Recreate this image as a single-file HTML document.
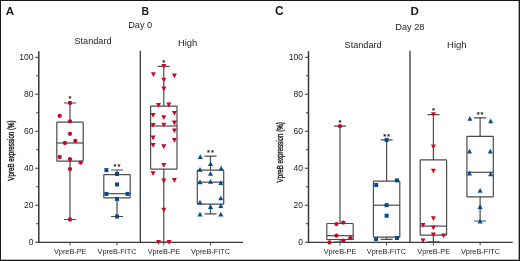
<!DOCTYPE html>
<html><head><meta charset="utf-8"><style>
html,body{margin:0;padding:0;background:#fff;}
body{width:520px;height:261px;overflow:hidden;}
svg{display:block;will-change:transform;}
text{font-family:"Liberation Sans",sans-serif;fill:#1c1c1c;}
.yt{font-size:9.4px;text-anchor:middle;stroke:#1c1c1c;stroke-width:0.4px;}
.st{font-size:7.6px;text-anchor:middle;fill:#111;stroke:#111;stroke-width:0.15px;}
</style></head><body>
<svg width="520" height="261" viewBox="0 0 520 261">
<rect x="0" y="0" width="520" height="261" fill="#fff"/>
<text x="5.67" y="14.90" font-size="11.60" text-anchor="start" font-weight="bold" fill="#111">A</text>
<text x="141.44" y="15.00" font-size="11.60" text-anchor="start" font-weight="bold" fill="#111" textLength="7.54" lengthAdjust="spacingAndGlyphs">B</text>
<text x="275.01" y="14.75" font-size="12.00" text-anchor="start" font-weight="bold" fill="#111">C</text>
<text x="410.42" y="14.50" font-size="11.60" text-anchor="start" font-weight="bold" fill="#111">D</text>
<text x="140.20" y="27.70" font-size="9.20" text-anchor="middle" fill="#1c1c1c" textLength="23.91" lengthAdjust="spacingAndGlyphs">Day 0</text>
<text x="409.87" y="29.90" font-size="9.27" text-anchor="middle" fill="#1c1c1c" textLength="29.26" lengthAdjust="spacingAndGlyphs">Day 28</text>
<text x="92.99" y="44.20" font-size="9.56" text-anchor="middle" fill="#1c1c1c" textLength="37.00" lengthAdjust="spacingAndGlyphs">Standard</text>
<text x="187.62" y="45.90" font-size="9.43" text-anchor="middle" fill="#1c1c1c" textLength="19.39" lengthAdjust="spacingAndGlyphs">High</text>
<text x="363.09" y="48.20" font-size="9.56" text-anchor="middle" fill="#1c1c1c" textLength="37.00" lengthAdjust="spacingAndGlyphs">Standard</text>
<text x="456.82" y="48.10" font-size="9.48" text-anchor="middle" fill="#1c1c1c" textLength="19.60" lengthAdjust="spacingAndGlyphs">High</text>
<text x="70.24" y="254.10" font-size="7.55" text-anchor="middle" fill="#1c1c1c" textLength="32.55" lengthAdjust="spacingAndGlyphs">VpreB-PE</text>
<text x="117.02" y="254.10" font-size="7.54" text-anchor="middle" fill="#1c1c1c" textLength="38.91" lengthAdjust="spacingAndGlyphs">VpreB-FITC</text>
<text x="163.89" y="254.10" font-size="7.54" text-anchor="middle" fill="#1c1c1c" textLength="32.45" lengthAdjust="spacingAndGlyphs">VpreB-PE</text>
<text x="210.52" y="254.10" font-size="7.55" text-anchor="middle" fill="#1c1c1c" textLength="39.11" lengthAdjust="spacingAndGlyphs">VpreB-FITC</text>
<text x="33.43" y="245.05" font-size="8.90" text-anchor="end" fill="#1c1c1c" textLength="4.75" lengthAdjust="spacingAndGlyphs">0</text>
<text x="33.43" y="208.07" font-size="8.90" text-anchor="end" fill="#1c1c1c" textLength="9.50" lengthAdjust="spacingAndGlyphs">20</text>
<text x="33.43" y="171.09" font-size="8.90" text-anchor="end" fill="#1c1c1c" textLength="9.50" lengthAdjust="spacingAndGlyphs">40</text>
<text x="33.43" y="134.11" font-size="8.90" text-anchor="end" fill="#1c1c1c" textLength="9.50" lengthAdjust="spacingAndGlyphs">60</text>
<text x="33.43" y="97.13" font-size="8.90" text-anchor="end" fill="#1c1c1c" textLength="9.50" lengthAdjust="spacingAndGlyphs">80</text>
<text x="33.43" y="60.15" font-size="8.90" text-anchor="end" fill="#1c1c1c" textLength="14.26" lengthAdjust="spacingAndGlyphs">100</text>
<text x="339.99" y="254.10" font-size="7.56" text-anchor="middle" fill="#1c1c1c" textLength="32.65" lengthAdjust="spacingAndGlyphs">VpreB-PE</text>
<text x="386.47" y="254.10" font-size="7.56" text-anchor="middle" fill="#1c1c1c" textLength="39.21" lengthAdjust="spacingAndGlyphs">VpreB-FITC</text>
<text x="433.69" y="254.10" font-size="7.58" text-anchor="middle" fill="#1c1c1c" textLength="32.85" lengthAdjust="spacingAndGlyphs">VpreB-PE</text>
<text x="480.52" y="254.10" font-size="7.55" text-anchor="middle" fill="#1c1c1c" textLength="39.11" lengthAdjust="spacingAndGlyphs">VpreB-FITC</text>
<text x="303.03" y="245.05" font-size="8.90" text-anchor="end" fill="#1c1c1c" textLength="4.75" lengthAdjust="spacingAndGlyphs">0</text>
<text x="303.03" y="208.07" font-size="8.90" text-anchor="end" fill="#1c1c1c" textLength="9.50" lengthAdjust="spacingAndGlyphs">20</text>
<text x="303.03" y="171.09" font-size="8.90" text-anchor="end" fill="#1c1c1c" textLength="9.50" lengthAdjust="spacingAndGlyphs">40</text>
<text x="303.03" y="134.11" font-size="8.90" text-anchor="end" fill="#1c1c1c" textLength="9.50" lengthAdjust="spacingAndGlyphs">60</text>
<text x="303.03" y="97.13" font-size="8.90" text-anchor="end" fill="#1c1c1c" textLength="9.50" lengthAdjust="spacingAndGlyphs">80</text>
<text x="303.03" y="60.15" font-size="8.90" text-anchor="end" fill="#1c1c1c" textLength="14.26" lengthAdjust="spacingAndGlyphs">100</text>
<g stroke="#383838" fill="none">
<path d="M38.80 51.2V242.80" stroke-width="1.5"/>
<path d="M37.80 242.35H243.00" stroke-width="1.2"/>
<path d="M140.30 50.7V242.20" stroke-width="1.3"/>
<path d="M35.20 242.20H38.80" stroke-width="1"/>
<path d="M35.20 205.22H38.80" stroke-width="1"/>
<path d="M35.20 168.24H38.80" stroke-width="1"/>
<path d="M35.20 131.26H38.80" stroke-width="1"/>
<path d="M35.20 94.28H38.80" stroke-width="1"/>
<path d="M35.20 57.30H38.80" stroke-width="1"/>
<path d="M36.20 223.71H38.80" stroke-width="1"/>
<path d="M36.20 186.73H38.80" stroke-width="1"/>
<path d="M36.20 149.75H38.80" stroke-width="1"/>
<path d="M36.20 112.77H38.80" stroke-width="1"/>
<path d="M36.20 75.79H38.80" stroke-width="1"/>
<path d="M70.00 242.20V245.5" stroke-width="0.9"/>
<path d="M117.00 242.20V245.5" stroke-width="0.9"/>
<path d="M163.80 242.20V245.5" stroke-width="0.9"/>
<path d="M210.50 242.20V245.5" stroke-width="0.9"/>
</g>
<g stroke="#383838" fill="none">
<path d="M308.50 51.2V242.80" stroke-width="1.5"/>
<path d="M307.50 242.35H512.70" stroke-width="1.2"/>
<path d="M410.00 50.7V242.20" stroke-width="1.3"/>
<path d="M304.90 242.20H308.50" stroke-width="1"/>
<path d="M304.90 205.22H308.50" stroke-width="1"/>
<path d="M304.90 168.24H308.50" stroke-width="1"/>
<path d="M304.90 131.26H308.50" stroke-width="1"/>
<path d="M304.90 94.28H308.50" stroke-width="1"/>
<path d="M304.90 57.30H308.50" stroke-width="1"/>
<path d="M305.90 223.71H308.50" stroke-width="1"/>
<path d="M305.90 186.73H308.50" stroke-width="1"/>
<path d="M305.90 149.75H308.50" stroke-width="1"/>
<path d="M305.90 112.77H308.50" stroke-width="1"/>
<path d="M305.90 75.79H308.50" stroke-width="1"/>
<path d="M340.00 242.20V245.5" stroke-width="0.9"/>
<path d="M386.60 242.20V245.5" stroke-width="0.9"/>
<path d="M433.40 242.20V245.5" stroke-width="0.9"/>
<path d="M480.10 242.20V245.5" stroke-width="0.9"/>
</g>
<text transform="translate(13.50 150.50) rotate(-90) scale(0.66 1)" class="yt">VpreB expression (%)</text>
<text transform="translate(283.30 152.30) rotate(-90) scale(0.66 1)" class="yt">VpreB expression (%)</text>
<g stroke="#4c4c4c" stroke-width="1.2" fill="none" stroke-linejoin="round">
<path d="M70.00 103.00V122.20M70.00 161.10V219.50"/>
<path d="M64.00 103.00H76.00M64.00 219.50H76.00"/>
<rect x="56.80" y="122.20" width="26.40" height="38.90" rx="0.6"/>
<path d="M56.80 143.00H83.20"/>
</g>
<circle cx="70.00" cy="103.00" r="2.15" fill="#c80826"/>
<circle cx="59.70" cy="115.80" r="2.15" fill="#c80826"/>
<circle cx="70.00" cy="121.30" r="2.15" fill="#c80826"/>
<circle cx="70.00" cy="133.80" r="2.15" fill="#c80826"/>
<circle cx="75.30" cy="141.00" r="2.15" fill="#c80826"/>
<circle cx="64.90" cy="143.00" r="2.15" fill="#c80826"/>
<circle cx="59.70" cy="157.00" r="2.15" fill="#c80826"/>
<circle cx="70.00" cy="159.20" r="2.15" fill="#c80826"/>
<circle cx="80.60" cy="162.60" r="2.15" fill="#c80826"/>
<circle cx="70.00" cy="169.10" r="2.15" fill="#c80826"/>
<circle cx="70.00" cy="219.50" r="2.15" fill="#c80826"/>
<text x="70.00" y="101.40" class="st">*</text>
<g stroke="#4c4c4c" stroke-width="1.2" fill="none" stroke-linejoin="round">
<path d="M117.00 170.00V174.70M117.00 197.90V216.50"/>
<path d="M111.00 170.00H123.00M111.00 216.50H123.00"/>
<rect x="103.80" y="174.70" width="26.40" height="23.20" rx="0.6"/>
<path d="M103.80 193.70H130.20"/>
</g>
<rect x="104.40" y="168.10" width="4.0" height="4.0" fill="#044c8e"/>
<rect x="115.00" y="172.00" width="4.0" height="4.0" fill="#044c8e"/>
<rect x="115.00" y="182.50" width="4.0" height="4.0" fill="#044c8e"/>
<rect x="104.40" y="191.90" width="4.0" height="4.0" fill="#044c8e"/>
<rect x="125.50" y="191.90" width="4.0" height="4.0" fill="#044c8e"/>
<rect x="115.00" y="196.90" width="4.0" height="4.0" fill="#044c8e"/>
<rect x="115.00" y="214.50" width="4.0" height="4.0" fill="#044c8e"/>
<text x="115.05" y="168.70" class="st">*</text>
<text x="118.95" y="168.70" class="st">*</text>
<g stroke="#4c4c4c" stroke-width="1.2" fill="none" stroke-linejoin="round">
<path d="M163.80 66.40V106.10M163.80 169.10V242.20"/>
<path d="M157.80 66.40H169.80M157.80 242.20H169.80"/>
<rect x="150.60" y="106.10" width="26.40" height="63.00" rx="0.6"/>
<path d="M150.60 126.00H177.00"/>
</g>
<path d="M161.30 64.00H166.30L163.80 68.80Z" fill="#c80826"/>
<path d="M150.90 72.30H155.90L153.40 77.10Z" fill="#c80826"/>
<path d="M171.90 73.50H176.90L174.40 78.30Z" fill="#c80826"/>
<path d="M161.30 77.70H166.30L163.80 82.50Z" fill="#c80826"/>
<path d="M161.30 86.60H166.30L163.80 91.40Z" fill="#c80826"/>
<path d="M156.00 102.90H161.00L158.50 107.70Z" fill="#c80826"/>
<path d="M166.30 102.60H171.30L168.80 107.40Z" fill="#c80826"/>
<path d="M171.90 111.00H176.90L174.40 115.80Z" fill="#c80826"/>
<path d="M150.60 112.90H155.60L153.10 117.70Z" fill="#c80826"/>
<path d="M161.30 115.20H166.30L163.80 120.00Z" fill="#c80826"/>
<path d="M171.90 120.60H176.90L174.40 125.40Z" fill="#c80826"/>
<path d="M150.60 123.00H155.60L153.10 127.80Z" fill="#c80826"/>
<path d="M161.30 122.80H166.30L163.80 127.60Z" fill="#c80826"/>
<path d="M171.90 128.40H176.90L174.40 133.20Z" fill="#c80826"/>
<path d="M150.60 135.60H155.60L153.10 140.40Z" fill="#c80826"/>
<path d="M171.90 137.90H176.90L174.40 142.70Z" fill="#c80826"/>
<path d="M150.60 143.00H155.60L153.10 147.80Z" fill="#c80826"/>
<path d="M161.30 144.20H166.30L163.80 149.00Z" fill="#c80826"/>
<path d="M161.30 162.90H166.30L163.80 167.70Z" fill="#c80826"/>
<path d="M150.60 171.30H155.60L153.10 176.10Z" fill="#c80826"/>
<path d="M161.30 178.60H166.30L163.80 183.40Z" fill="#c80826"/>
<path d="M171.90 177.90H176.90L174.40 182.70Z" fill="#c80826"/>
<path d="M161.30 207.70H166.30L163.80 212.50Z" fill="#c80826"/>
<path d="M156.00 240.00H161.00L158.50 244.80Z" fill="#c80826"/>
<path d="M166.60 240.00H171.60L169.10 244.80Z" fill="#c80826"/>
<text x="163.80" y="64.80" class="st">*</text>
<g stroke="#4c4c4c" stroke-width="1.2" fill="none" stroke-linejoin="round">
<path d="M210.50 156.10V170.10M210.50 204.20V213.90"/>
<path d="M204.50 156.10H216.50M204.50 213.90H216.50"/>
<rect x="197.30" y="170.10" width="26.40" height="34.10" rx="0.6"/>
<path d="M197.30 182.20H223.70"/>
</g>
<path d="M197.80 159.10H202.80L200.30 154.30Z" fill="#044c8e"/>
<path d="M208.00 166.10H213.00L210.50 161.30Z" fill="#044c8e"/>
<path d="M197.50 171.80H202.50L200.00 167.00Z" fill="#044c8e"/>
<path d="M218.70 170.50H223.70L221.20 165.70Z" fill="#044c8e"/>
<path d="M208.00 175.80H213.00L210.50 171.00Z" fill="#044c8e"/>
<path d="M197.50 184.30H202.50L200.00 179.50Z" fill="#044c8e"/>
<path d="M208.00 183.80H213.00L210.50 179.00Z" fill="#044c8e"/>
<path d="M218.30 185.10H223.30L220.80 180.30Z" fill="#044c8e"/>
<path d="M218.30 200.30H223.30L220.80 195.50Z" fill="#044c8e"/>
<path d="M197.50 204.50H202.50L200.00 199.70Z" fill="#044c8e"/>
<path d="M208.00 208.90H213.00L210.50 204.10Z" fill="#044c8e"/>
<path d="M218.30 208.10H223.30L220.80 203.30Z" fill="#044c8e"/>
<path d="M197.50 216.60H202.50L200.00 211.80Z" fill="#044c8e"/>
<path d="M218.30 216.60H223.30L220.80 211.80Z" fill="#044c8e"/>
<text x="208.55" y="154.80" class="st">*</text>
<text x="212.45" y="154.80" class="st">*</text>
<g stroke="#4c4c4c" stroke-width="1.2" fill="none" stroke-linejoin="round">
<path d="M340.00 126.20V223.50M340.00 239.50V242.20"/>
<path d="M334.00 126.20H346.00M334.00 242.20H346.00"/>
<rect x="326.80" y="223.50" width="26.40" height="16.00" rx="0.6"/>
<path d="M326.80 235.70H353.20"/>
</g>
<circle cx="340.00" cy="126.20" r="2.15" fill="#c80826"/>
<circle cx="336.40" cy="224.10" r="2.15" fill="#c80826"/>
<circle cx="343.30" cy="222.60" r="2.15" fill="#c80826"/>
<circle cx="336.50" cy="235.70" r="2.15" fill="#c80826"/>
<circle cx="350.40" cy="238.20" r="2.15" fill="#c80826"/>
<circle cx="343.40" cy="240.60" r="2.15" fill="#c80826"/>
<circle cx="329.50" cy="242.40" r="2.15" fill="#c80826"/>
<text x="340.00" y="124.80" class="st">*</text>
<g stroke="#4c4c4c" stroke-width="1.2" fill="none" stroke-linejoin="round">
<path d="M386.60 139.90V181.20M386.60 237.20V239.40"/>
<path d="M380.60 139.90H392.60M380.60 239.40H392.60"/>
<rect x="373.40" y="181.20" width="26.40" height="56.00" rx="0.6"/>
<path d="M373.40 205.20H399.80"/>
</g>
<rect x="384.60" y="137.90" width="4.0" height="4.0" fill="#044c8e"/>
<rect x="394.90" y="178.40" width="4.0" height="4.0" fill="#044c8e"/>
<rect x="374.20" y="183.00" width="4.0" height="4.0" fill="#044c8e"/>
<rect x="384.60" y="203.20" width="4.0" height="4.0" fill="#044c8e"/>
<rect x="384.60" y="213.70" width="4.0" height="4.0" fill="#044c8e"/>
<rect x="395.00" y="236.00" width="4.0" height="4.0" fill="#044c8e"/>
<rect x="374.05" y="237.10" width="4.0" height="4.0" fill="#044c8e"/>
<text x="384.65" y="138.70" class="st">*</text>
<text x="388.55" y="138.70" class="st">*</text>
<g stroke="#4c4c4c" stroke-width="1.2" fill="none" stroke-linejoin="round">
<path d="M433.40 114.70V159.90M433.40 235.10V241.80"/>
<path d="M427.40 114.70H439.40M427.40 241.80H439.40"/>
<rect x="420.20" y="159.90" width="26.40" height="75.20" rx="0.6"/>
<path d="M420.20 226.10H446.60"/>
</g>
<path d="M430.90 112.30H435.90L433.40 117.10Z" fill="#c80826"/>
<path d="M430.90 144.50H435.90L433.40 149.30Z" fill="#c80826"/>
<path d="M430.90 168.70H435.90L433.40 173.50Z" fill="#c80826"/>
<path d="M430.90 216.30H435.90L433.40 221.10Z" fill="#c80826"/>
<path d="M420.50 223.00H425.50L423.00 227.80Z" fill="#c80826"/>
<path d="M430.90 225.40H435.90L433.40 230.20Z" fill="#c80826"/>
<path d="M430.90 232.40H435.90L433.40 237.20Z" fill="#c80826"/>
<path d="M441.10 233.50H446.10L443.60 238.30Z" fill="#c80826"/>
<path d="M420.50 238.40H425.50L423.00 243.20Z" fill="#c80826"/>
<text x="433.40" y="113.20" class="st">*</text>
<g stroke="#4c4c4c" stroke-width="1.2" fill="none" stroke-linejoin="round">
<path d="M480.10 117.80V136.40M480.10 196.80V221.00"/>
<path d="M474.10 117.80H486.10M474.10 221.00H486.10"/>
<rect x="466.90" y="136.40" width="26.40" height="60.40" rx="0.6"/>
<path d="M466.90 172.30H493.30"/>
</g>
<path d="M467.40 120.70H472.40L469.90 115.90Z" fill="#044c8e"/>
<path d="M488.20 123.30H493.20L490.70 118.50Z" fill="#044c8e"/>
<path d="M467.00 153.50H472.00L469.50 148.70Z" fill="#044c8e"/>
<path d="M487.80 153.50H492.80L490.30 148.70Z" fill="#044c8e"/>
<path d="M467.00 175.40H472.00L469.50 170.60Z" fill="#044c8e"/>
<path d="M488.15 176.20H493.15L490.65 171.40Z" fill="#044c8e"/>
<path d="M477.60 192.70H482.60L480.10 187.90Z" fill="#044c8e"/>
<path d="M477.60 208.90H482.60L480.10 204.10Z" fill="#044c8e"/>
<path d="M477.60 223.40H482.60L480.10 218.60Z" fill="#044c8e"/>
<text x="478.15" y="116.60" class="st">*</text>
<text x="482.05" y="116.60" class="st">*</text>
<rect x="0" y="0" width="520" height="1" fill="#1a1a1a"/>
<rect x="0" y="0" width="1" height="261" fill="#1a1a1a"/>
<rect x="518.65" y="0" width="1.35" height="261" fill="#1a1a1a"/>
<rect x="0" y="259.7" width="520" height="1.3" fill="#1a1a1a"/>
</svg>
</body></html>
